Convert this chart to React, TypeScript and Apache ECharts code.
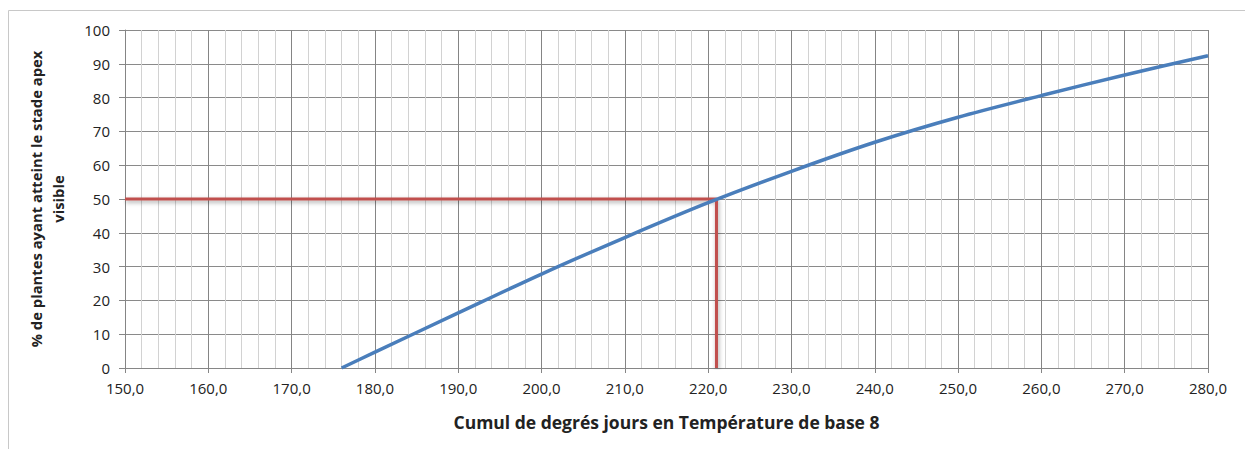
import React, { useEffect, useRef } from "react";
import * as echarts from "echarts";

const curveX = [176, 180, 190, 200, 210, 220, 230, 240, 250, 260, 270, 280];
const curveY = [0, 4.7, 16.3, 27.8, 38.6, 48.9, 58.2, 66.8, 74.2, 80.6, 86.7, 92.4];
const refX = [150, 221, 221];
const refY = [50, 50, 0];

const xTitle = "Cumul de degrés jours en Température de base 8";
const yTitle = "% de plantes ayant atteint le stade apex\nvisible";

const FONT = "Open Sans";

export default function App() {
  const ref = useRef<HTMLDivElement>(null);
  useEffect(() => {
    if (!ref.current) return;
    const chart = echarts.init(ref.current, null, { renderer: "svg" });
    chart.setOption({
      animation: false,
      backgroundColor: "#ffffff",
      graphic: [
        {
          type: "rect",
          shape: { x: 8.5, y: 10.5, width: 1300, height: 500 },
          style: { fill: "none", stroke: "#c8c8c8", lineWidth: 1 },
          silent: true,
          z: -1,
        },
      ],
      grid: { left: 125, right: 37, top: 30, bottom: 81, containLabel: false },
      xAxis: [
        {
          type: "value",
          min: 150,
          max: 280,
          interval: 2,
          position: "top",
          axisLine: { show: false },
          axisTick: { show: false },
          axisLabel: { show: false },
          splitLine: { show: true, lineStyle: { color: "#d2d2d2", width: 1 } },
          z: 0,
        },
        {
          type: "value",
          min: 150,
          max: 280,
          interval: 10,
          position: "bottom",
          name: xTitle,
          nameLocation: "middle",
          nameGap: 45,
          nameTextStyle: { fontFamily: FONT, fontSize: 17.5, fontWeight: "bold", color: "#222" },
          axisLine: { show: true, onZero: false, lineStyle: { color: "#868686", width: 1 } },
          axisTick: { show: true, length: 5, lineStyle: { color: "#868686" } },
          axisLabel: {
            fontFamily: FONT,
            fontSize: 15,
            color: "#222",
            margin: 12,
            formatter: (v: number) => v.toFixed(1).replace(".", ","),
          },
          splitLine: { show: true, lineStyle: { color: "#858585", width: 1 } },
          z: 1,
        },
      ],
      yAxis: {
        type: "value",
        min: 0,
        max: 100,
        interval: 10,
        name: yTitle,
        nameLocation: "middle",
        nameGap: 56,
        nameTextStyle: { fontFamily: FONT, fontSize: 14.8, fontWeight: "bold", color: "#222", lineHeight: 22 },
        axisLine: { show: true, lineStyle: { color: "#868686", width: 1 } },
        axisTick: { show: true, length: 6, lineStyle: { color: "#868686" } },
        axisLabel: { fontFamily: FONT, fontSize: 15, color: "#222", margin: 15 },
        splitLine: { show: true, lineStyle: { color: "#8a8a8a", width: 1 } },
      },
      series: [
        {
          type: "line",
          xAxisIndex: 1,
          data: refX.map((x, i) => [x, refY[i]]),
          showSymbol: false,
          symbol: "none",
          lineStyle: {
            color: "#c0504d",
            width: 3,
            shadowColor: "rgba(0,0,0,0.35)",
            shadowBlur: 4,
            shadowOffsetY: 2,
            shadowOffsetX: 1,
          },
          z: 3,
        },
        {
          type: "line",
          xAxisIndex: 1,
          data: curveX.map((x, i) => [x, curveY[i]]),
          showSymbol: false,
          symbol: "none",
          smooth: 0.3,
          lineStyle: { color: "#4a7ebb", width: 3.5 },
          z: 4,
        },
      ],
    });
    return () => chart.dispose();
  }, []);
  return (
    <div
      ref={ref}
      style={{ position: "fixed", left: 0, top: 0, width: 1245, height: 449 }}
    />
  );
}
